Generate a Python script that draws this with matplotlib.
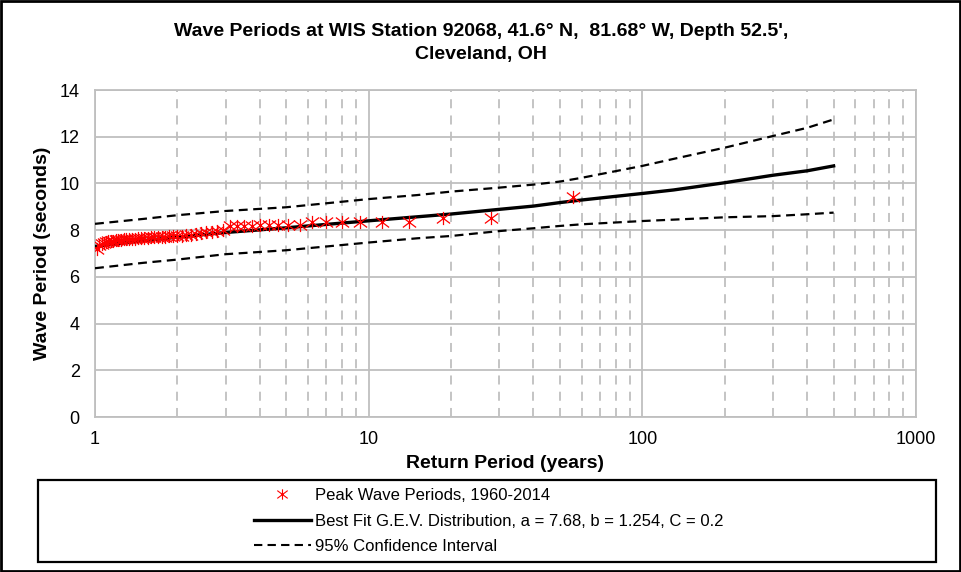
import matplotlib
matplotlib.use("Agg")
import matplotlib.pyplot as plt
from matplotlib.path import Path
from matplotlib.patches import Rectangle
from matplotlib.lines import Line2D
import numpy as np

plt.rcParams['font.family'] = ['Liberation Sans', 'DejaVu Sans']

# peak wave periods, ranked highest first (55 years, 1960-2014)
peak_periods = [9.43, 8.51, 8.51, 8.37, 8.36, 8.36, 8.35, 8.34, 8.33, 8.22,
                8.22, 8.21, 8.20, 8.20, 8.19, 8.19, 8.18, 8.17, 8.00, 7.96,
                7.93, 7.90, 7.86, 7.82, 7.80, 7.78, 7.76, 7.75, 7.74, 7.73,
                7.72, 7.71, 7.70, 7.70, 7.69, 7.68, 7.67, 7.66, 7.65, 7.64,
                7.63, 7.62, 7.61, 7.60, 7.59, 7.58, 7.57, 7.55, 7.54, 7.52,
                7.50, 7.47, 7.42, 7.35, 7.20]
n_years = len(peak_periods)
return_periods = [(n_years + 1) / r for r in range(1, n_years + 1)]

# fitted G.E.V. curve and 95% confidence band
fit_T = [1, 1.5, 2, 3, 5, 10, 15, 20, 30, 40, 50, 60, 100, 130, 200, 300, 400, 500]
fit_best = [7.30, 7.55, 7.70, 7.90, 8.10, 8.40, 8.57, 8.69, 8.89, 9.03, 9.18, 9.29,
            9.57, 9.72, 10.03, 10.35, 10.54, 10.75]
fit_upper = [8.27, 8.48, 8.64, 8.82, 8.98, 9.33, 9.50, 9.65, 9.82, 9.95, 10.08, 10.24,
             10.75, 11.05, 11.53, 12.03, 12.38, 12.74]
fit_lower = [6.37, 6.60, 6.74, 6.97, 7.14, 7.47, 7.65, 7.75, 7.96, 8.08, 8.18, 8.25,
             8.39, 8.45, 8.55, 8.60, 8.68, 8.75]

# Excel style star marker: X with a vertical bar
star = Path([(0, -1), (0, 1), (-1, -0.75), (1, 0.75), (-1, 0.75), (1, -0.75)],
            [Path.MOVETO, Path.LINETO, Path.MOVETO, Path.LINETO, Path.MOVETO, Path.LINETO])

grid_c = '#BFBFBF'

fig = plt.figure(figsize=(9.62, 5.72), dpi=100)
ax = fig.add_axes([95 / 962, 1 - 417 / 572, 821 / 962, 327 / 572])

ax.set_xscale('log')
ax.set_xlim(1, 1000)
ax.set_ylim(0, 14)
ax.set_yticks(np.arange(0, 15, 2))
ax.set_xticks([1, 10, 100, 1000], labels=['1', '10', '100', '1000'])
ax.minorticks_on()
ax.yaxis.set_minor_locator(matplotlib.ticker.NullLocator())
ax.xaxis.set_minor_formatter(matplotlib.ticker.NullFormatter())
ax.tick_params(which='both', length=0, labelsize=13, colors='black')
ax.tick_params(axis='y', pad=11)
ax.tick_params(axis='x', pad=10)

ax.grid(which='major', color=grid_c, lw=1.3)
ax.grid(which='minor', axis='x', color=grid_c, lw=1.3, dashes=(5, 4))
ax.set_axisbelow(True)
for s in ax.spines.values():
    s.set_color(grid_c)
    s.set_linewidth(1.3)

ax.plot(fit_T, fit_upper, color='black', lw=1.6, dashes=(4, 2.5), zorder=3)
ax.plot(fit_T, fit_lower, color='black', lw=1.6, dashes=(4, 2.5), zorder=3)
ax.plot(fit_T, fit_best, color='black', lw=2.4, zorder=3)
ax.plot(return_periods, peak_periods, ls='none', marker=star, ms=9.5, mew=0.9,
        color='#FF0000', zorder=4)

ax.set_xlabel('Return Period (years)', fontsize=14, fontweight='bold', labelpad=5)
ax.set_ylabel('Wave Period (seconds)', fontsize=14, fontweight='bold', labelpad=6)

fig.text(0.5, 1 - 31 / 572,
         "Wave Periods at WIS Station 92068, 41.6\u00b0 N,  81.68\u00b0 W, Depth 52.5',",
         ha='center', va='center', fontsize=14, fontweight='bold')
fig.text(0.5, 1 - 55 / 572, "Cleveland, OH",
         ha='center', va='center', fontsize=14, fontweight='bold')

# legend box
fig.patches.append(Rectangle((38 / 962, 1 - 562 / 572), 898 / 962, 82 / 572,
                             transform=fig.transFigure, fill=False, ec='black', lw=1.6))
handles = [
    Line2D([], [], ls='none', marker=star, ms=7.5, mew=0.8, color='#FF0000'),
    Line2D([], [], color='black', lw=2.4),
    Line2D([], [], color='black', lw=1.5, dashes=(4, 2.5)),
]
labels = ['Peak Wave Periods, 1960-2014',
          'Best Fit G.E.V. Distribution, a = 7.68, b = 1.254, C = 0.2',
          '95% Confidence Interval']
fig.legend(handles, labels, loc='center left', bbox_to_anchor=(254 / 962, 1 - 521 / 572),
           frameon=False, fontsize=12, handlelength=3.4, handletextpad=0.25,
           labelspacing=0.62, borderpad=0, borderaxespad=0)

# outer border
fig.patches.append(Rectangle((0.001, 0.002), 0.997, 0.996, transform=fig.transFigure,
                             fill=False, ec='black', lw=2))

fig.savefig('out.png', dpi=100)
